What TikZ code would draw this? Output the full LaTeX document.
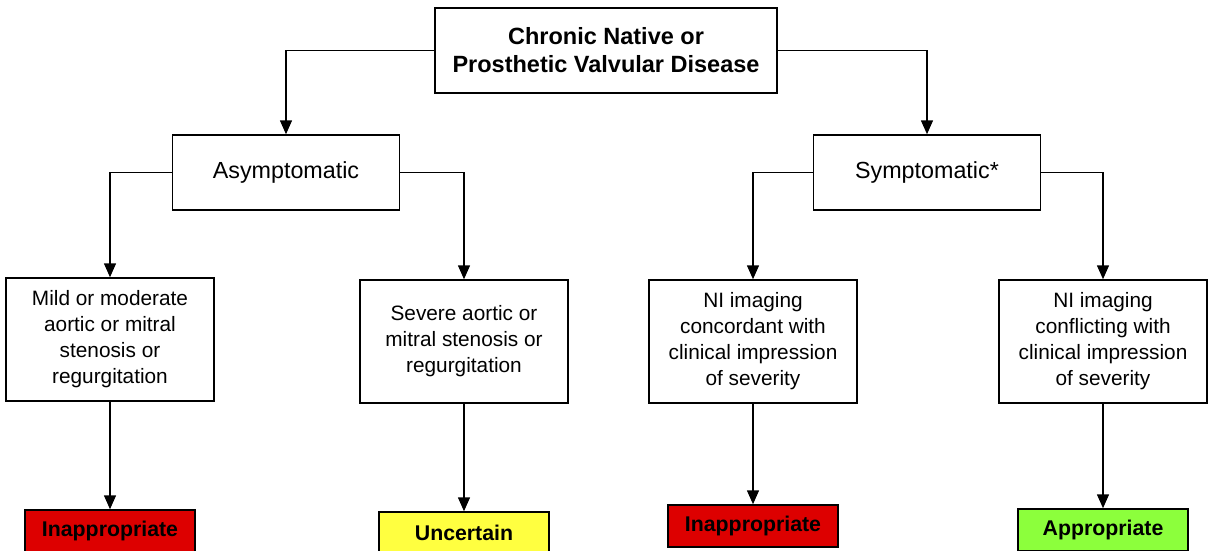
\documentclass[tikz,border=0pt]{standalone}
\usepackage{fontspec}
\setmainfont{Liberation Sans}
\usetikzlibrary{arrows.meta}
\definecolor{inapred}{RGB}{221,0,0}
\definecolor{uncyellow}{RGB}{255,255,64}
\definecolor{appgreen}{RGB}{140,255,60}
\begin{document}
\begin{tikzpicture}[x=1pt,y=-1pt,
  box/.style={draw,line width=1.5pt,align=center,inner sep=0pt,fill=white},
  headbox/.style={box,minimum width=342pt,minimum height=85pt,font=\bfseries\fontsize{23.5}{28}\selectfont},
  groupbox/.style={box,minimum width=227pt,minimum height=75pt,font=\fontsize{23.3}{26}\selectfont},
  casebox/.style={box,minimum width=208pt,minimum height=123pt,font=\fontsize{20.8}{26}\selectfont},
  ratebox/.style={box,minimum width=170pt,minimum height=42pt,font=\bfseries\fontsize{21.3}{24}\selectfont},
  link/.style={line width=1.5pt,-{Triangle[length=14pt,width=12pt]}}]
\useasboundingbox (0,0) rectangle (1211,550);
\clip (0,0) rectangle (1211,550);

% root
\node[headbox] (root) at (606,50.5) {Chronic Native or\\Prosthetic Valvular Disease};

% symptom groups
\node[groupbox] (asym) at (286,172.5) {Asymptomatic};
\node[groupbox] (sym) at (927,172.5) {Symptomatic*};

% clinical situations
\node[casebox] (m1) at (110,339.5) {Mild or moderate\\aortic or mitral\\stenosis or\\regurgitation};
\node[casebox] (m2) at (464,341.5) {Severe aortic or\\mitral stenosis or\\regurgitation};
\node[casebox] (m3) at (753,341.5) {NI imaging\\concordant with\\clinical impression\\of severity};
\node[casebox] (m4) at (1103,341.5) {NI imaging\\conflicting with\\clinical impression\\of severity};

% ratings
\node[ratebox,fill=inapred] (r1) at (110,531) {Inappropriate};
\node[ratebox,fill=uncyellow] (r2) at (464,533) {Uncertain};
\node[ratebox,fill=inapred] (r3) at (753,526) {Inappropriate};
\node[ratebox,fill=appgreen] (r4) at (1103,530) {Appropriate};

% connectors
\draw[link] (root.west) -| (asym.north);
\draw[link] (root.east) -| (sym.north);
\draw[link] (asym.west) -| (m1.north);
\draw[link] (asym.east) -| (m2.north);
\draw[link] (sym.west) -| (m3.north);
\draw[link] (sym.east) -| (m4.north);
\draw[link] (m1.south) -- (r1.north);
\draw[link] (m2.south) -- (r2.north);
\draw[link] (m3.south) -- (r3.north);
\draw[link] (m4.south) -- (r4.north);
\end{tikzpicture}
\end{document}
